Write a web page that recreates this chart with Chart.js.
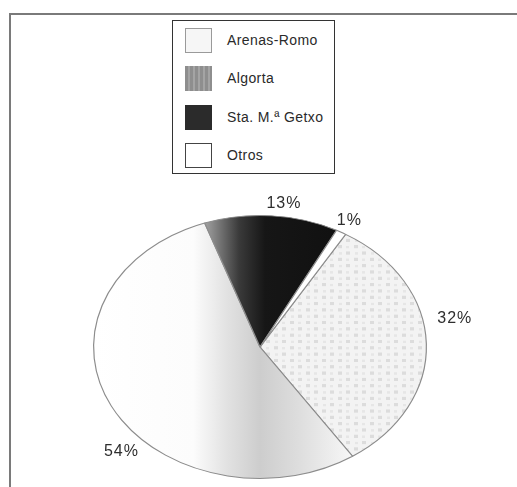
<!DOCTYPE html>
<html>
<head>
<meta charset="utf-8">
<script src="https://cdn.jsdelivr.net/npm/chart.js@4.4.1/dist/chart.umd.min.js"></script>
<style>
  html, body { margin: 0; padding: 0; background: #fff; }
  #wrap { position: relative; width: 517px; height: 487px; overflow: hidden; background: #fff; }
  #frame { position: absolute; left: 9px; top: 13px; width: 520px; height: 480px;
           border-top: 2px solid #7a7a7a; border-left: 2px solid #7a7a7a; }
  #c { position: absolute; left: 0; top: 0; }
  #legend { position: absolute; left: 172px; top: 20px; width: 161px; height: 152px;
            border: 1px solid #333; background: #fff; font-family: "Liberation Sans", Arial, sans-serif; }
  .item { position: absolute; left: 12px; height: 27px; width: 150px; }
  .sw { position: absolute; left: 0; top: 0; width: 27px; height: 25px; box-sizing: border-box; }
  .tx { position: absolute; left: 42px; top: 4px; font-size: 14px; letter-spacing: 0.4px; color: #2a2a2a; white-space: nowrap; }
</style>
</head>
<body>
<div id="wrap">
  <div id="frame"></div>
  <canvas id="c" width="517" height="487"></canvas>
  <div id="legend"></div>
</div>
<script>
// ---- data ----
const categories = ["Arenas-Romo", "Algorta", "Sta. M.\u00AA Getxo", "Otros"];
const shares = [32, 54, 13, 1];
const percentLabels = ["32%", "54%", "13%", "1%"];

// ---- styles ----
function dotPattern() {
  const p = document.createElement('canvas');
  p.width = 16; p.height = 16;
  const g = p.getContext('2d');
  g.fillStyle = '#f3f3f3'; g.fillRect(0, 0, 16, 16);
  g.fillStyle = '#dcdcdc';
  g.fillRect(2, 2, 4, 4); g.fillRect(10, 10, 4, 4);
  g.fillStyle = '#e6e6e6';
  g.fillRect(10, 3, 3, 3); g.fillRect(3, 11, 3, 3);
  return g.createPattern(p, 'repeat');
}
const ctx0 = document.getElementById('c').getContext('2d');
const arenasFill = dotPattern();

function sliceFill(context) {
  const chart = context.chart;
  const c = chart.ctx;
  const i = context.dataIndex;
  if (i === 0) return arenasFill;
  if (i === 3) return '#ffffff';
  if (i === 1) {
    const g = c.createLinearGradient(93, 0, 427, 0);
    g.addColorStop(0, '#ffffff');
    g.addColorStop(0.3, '#fcfcfc');
    g.addColorStop(0.4, '#e2e2e2');
    g.addColorStop(0.5, '#cdcdcd');
    g.addColorStop(0.62, '#dedede');
    g.addColorStop(0.78, '#f8f8f8');
    g.addColorStop(1, '#ffffff');
    return g;
  }
  const g = c.createLinearGradient(200, 0, 330, 0);
  g.addColorStop(0, '#b0b0b0');
  g.addColorStop(0.3, '#3a3a3a');
  g.addColorStop(0.5, '#161616');
  g.addColorStop(1, '#111111');
  return g;
}

const legendSwatches = [
  'background:#f6f6f6;border:1px solid #9a9a9a;',
  'background:repeating-linear-gradient(90deg,#8e8e8e 0 3px,#a4a4a4 3px 5px);',
  'background:#2b2b2b;',
  'background:#fff;border:1px solid #444;'
];

// ---- elliptical (tilted) pie: squash the dataset drawing vertically ----
const ELLIPSE_CY = 347;
const SQUASH = 0.79;
const ellipsePlugin = {
  id: 'ellipse',
  beforeDatasetsDraw(chart) {
    const a = chart.getDatasetMeta(0).data[0];
    const c = chart.ctx;
    c.save();
    c.translate(a.x, ELLIPSE_CY);
    c.scale(1, SQUASH);
    c.translate(-a.x, -a.y);
  },
  afterDatasetsDraw(chart) {
    chart.ctx.restore();
  }
};

const labelPlugin = {
  id: 'pctLabels',
  afterDraw(chart, args, opts) {
    const c = chart.ctx;
    const meta = chart.getDatasetMeta(0);
    c.save();
    c.font = '16px "Liberation Sans", Arial, sans-serif';
    c.fillStyle = '#2e2e2e';
    c.textAlign = 'center';
    c.textBaseline = 'middle';
    try { c.letterSpacing = '1px'; } catch (e) {}
    meta.data.forEach((el, i) => {
      const place = opts.place[i];
      const mid = (el.startAngle + el.endAngle) / 2 + place.shift * Math.PI / 180;
      const r = el.outerRadius * place.dist;
      const x = el.x + Math.cos(mid) * r;
      const y = ELLIPSE_CY + Math.sin(mid) * r * SQUASH;
      c.fillText(percentLabels[i], x, y);
    });
    c.restore();
  }
};

const chart = new Chart(document.getElementById('c'), {
  type: 'pie',
  data: {
    labels: categories,
    datasets: [{
      data: shares,
      backgroundColor: sliceFill,
      borderColor: '#8c8c8c',
      borderWidth: 1.2,
      clip: false
    }]
  },
  options: {
    responsive: false,
    animation: false,
    devicePixelRatio: 1,
    rotation: 31,
    layout: { padding: { left: 93, right: 90, top: 140, bottom: 13 } },
    plugins: {
      legend: { display: false },
      tooltip: { enabled: false },
      pctLabels: {
        place: [
          { shift: -9, dist: 1.19 },
          { shift: -17, dist: 1.15 },
          { shift: 3.5, dist: 1.10 },
          { shift: 0, dist: 1.10 }
        ]
      }
    }
  },
  plugins: [ellipsePlugin, labelPlugin]
});

// ---- HTML legend built from the chart's categories ----
const legendEl = document.getElementById('legend');
const rowTops = [7, 45, 84, 122];
chart.data.labels.forEach((lab, i) => {
  const it = document.createElement('div');
  it.className = 'item';
  it.style.top = rowTops[i] + 'px';
  const sw = document.createElement('div');
  sw.className = 'sw';
  sw.style.cssText += legendSwatches[i];
  const tx = document.createElement('div');
  tx.className = 'tx';
  tx.textContent = lab;
  it.appendChild(sw); it.appendChild(tx);
  legendEl.appendChild(it);
});
</script>
</body>
</html>
